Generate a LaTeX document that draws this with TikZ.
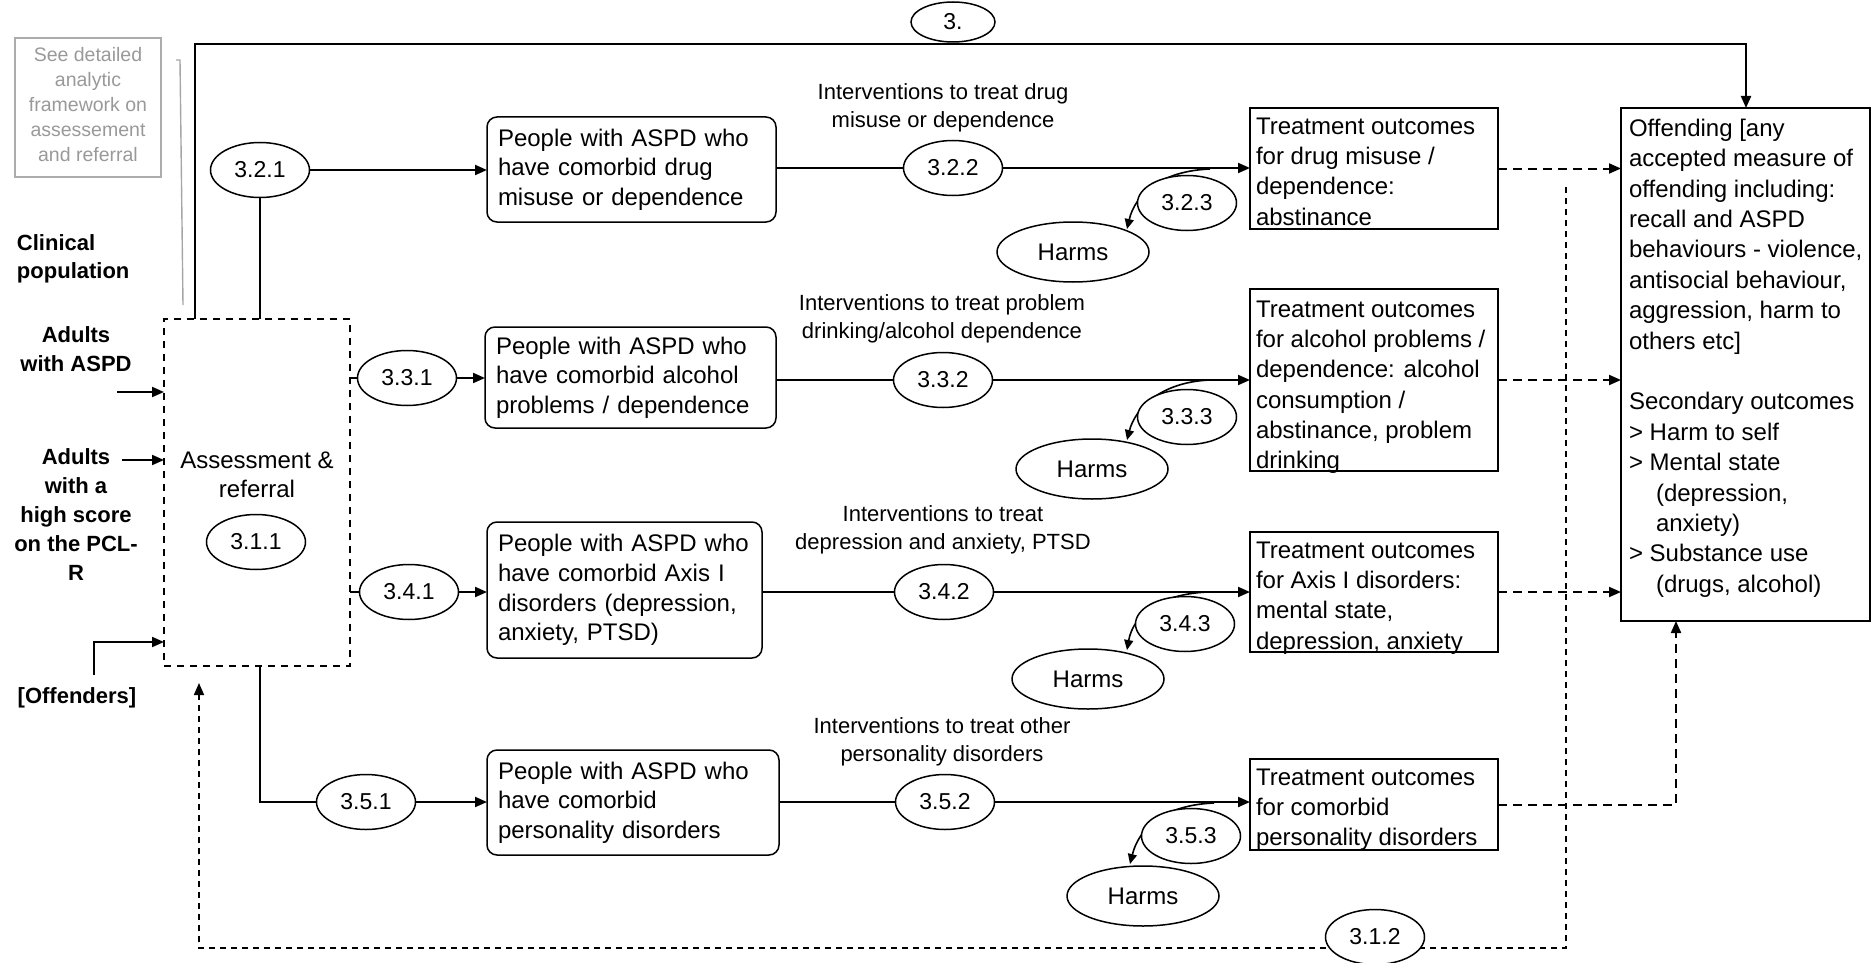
\documentclass[tikz,border=0pt]{standalone}
\usepackage{fontspec}
\setmainfont{Liberation Sans}
\usetikzlibrary{arrows.meta,shapes.geometric,backgrounds,calc}
\begin{document}
\begin{tikzpicture}[x=0.5pt,y=-0.5pt,
  every node/.style={inner sep=0pt,outer sep=0pt},
  tip/.style={-{Triangle[length=6pt,width=5pt]}},
  conn/.style={line width=1pt},
  arr/.style={conn,tip},
  dline/.style={line width=1pt,dash pattern=on 4.5pt off 3pt,tip},
  fline/.style={line width=0.8pt,dash pattern=on 3pt off 2.5pt},
  harmarr/.style={line width=0.8pt,-{Triangle[length=5pt,width=4.5pt]}},
  num/.style={ellipse,draw,line width=0.75pt,fill=white,minimum width=49.5pt,minimum height=27.5pt,font=\fontsize{11.5}{13}\selectfont},
  harm/.style={ellipse,draw,line width=0.75pt,fill=white,minimum width=76pt,minimum height=30pt,font=\fontsize{12}{14}\selectfont},
  pbox/.style={draw,line width=0.75pt,rounded corners=5pt,align=left,inner xsep=5.5pt,font=\fontsize{12}{14.8}\selectfont},
  tbox/.style={draw,line width=0.75pt,minimum width=124pt},
  ttext/.style={anchor=north west,align=left,font=\fontsize{12}{15.1}\selectfont},
  ilabel/.style={align=center,font=\fontsize{11}{13.8}\selectfont},
  side/.style={align=center,font=\bfseries\fontsize{11}{14.4}\selectfont},
]
\useasboundingbox (0,0) rectangle (1874,963);

% note box on the left
\node[draw=gray!65,line width=0.75pt,minimum width=73pt,minimum height=69.5pt] (note) at (88,107.5) {};
\node[align=center,text=gray!80,font=\fontsize{9.75}{12.5}\selectfont] (notetxt) at (88,105)
  {See detailed\\analytic\\framework on\\assessement\\and referral};

% population labels
\node[anchor=west,align=left,font=\bfseries\fontsize{11}{14}\selectfont] (clin) at (17,259) {Clinical\\population};
\node[side] (aspd) at (76,349.5) {Adults\\with ASPD};
\node[side] (pcl) at (76,514.5) {Adults\\with a\\high score\\on the PCL-\\R};
\node[side] (offd) at (77,698) {[Offenders]};

% assessment and referral
\node[draw,line width=0.75pt,dash pattern=on 3.5pt off 3pt,minimum width=93pt,minimum height=173.5pt] (ar) at (257,492.5) {};
\node[align=center,font=\fontsize{12}{14.5}\selectfont] (artxt) at (257,474.5) {Assessment \&\\referral};
\node[num] (e311) at (256,542) {3.1.1};

% top route
\node[num,minimum width=42pt,minimum height=20pt] (e3) at (953,22) {3.};

% population groups
\node[pbox,text width=133.5pt,minimum height=52.5pt] (p1) at (631.5,169.5) {People with ASPD who\\have comorbid drug\\misuse or dependence};
\node[pbox,text width=134.5pt,minimum height=50.5pt] (p2) at (630.5,377.5) {People with ASPD who\\have comorbid alcohol\\problems / dependence};
\node[pbox,text width=126.5pt,minimum height=68pt] (p3) at (624.5,590) {People with ASPD who\\have comorbid Axis I\\disorders (depression,\\anxiety, PTSD)};
\node[pbox,text width=135pt,minimum height=52.5pt] (p4) at (633,802.5) {People with ASPD who\\have comorbid\\personality disorders};

% key questions
\node[num] (e321) at (260,170) {3.2.1};
\node[num] (e331) at (407,378) {3.3.1};
\node[num] (e341) at (409,592) {3.4.1};
\node[num] (e351) at (366,802) {3.5.1};
\node[num] (e322) at (953,168) {3.2.2};
\node[num] (e332) at (943,380) {3.3.2};
\node[num] (e342) at (944,592) {3.4.2};
\node[num] (e352) at (945,802) {3.5.2};
\node[num] (e323) at (1187,203) {3.2.3};
\node[num] (e333) at (1187,417) {3.3.3};
\node[num] (e343) at (1185,624) {3.4.3};
\node[num] (e353) at (1191,836) {3.5.3};
\node[num] (e312) at (1375,937) {3.1.2};

% harms
\node[harm] (h1) at (1073,252) {Harms};
\node[harm] (h2) at (1092,469) {Harms};
\node[harm] (h3) at (1088,679) {Harms};
\node[harm] (h4) at (1143,896) {Harms};

% intervention labels
\node[ilabel] (l1) at (943,108) {Interventions to treat drug\\misuse or dependence};
\node[ilabel] (l2) at (942,319) {Interventions to treat problem\\drinking/alcohol dependence};
\node[ilabel] (l3) at (943,530) {Interventions to treat\\depression and anxiety, PTSD};
\node[ilabel] (l4) at (942,742) {Interventions to treat other\\personality disorders};

% treatment outcomes
\node[tbox,minimum height=60.5pt] (t1) at (1374,168.5) {};
\node[tbox,minimum height=91pt] (t2) at (1374,380) {};
\node[tbox,minimum height=60pt] (t3) at (1374,592) {};
\node[tbox,minimum height=45.5pt] (t4) at (1374,804.5) {};
\node[ttext] (t1txt) at (1256,118) {Treatment outcomes\\for drug misuse /\\dependence:\\abstinance};
\node[ttext] (t2txt) at (1256,301) {Treatment outcomes\\for alcohol problems /\\dependence: alcohol\\consumption /\\abstinance, problem\\drinking};
\node[ttext] (t3txt) at (1256,542) {Treatment outcomes\\for Axis I disorders:\\mental state,\\depression, anxiety};
\node[ttext] (t4txt) at (1256,769) {Treatment outcomes\\for comorbid\\personality disorders};

% final outcomes
\node[draw,line width=0.75pt,minimum width=124.5pt,minimum height=256.5pt] (off) at (1745.5,364.5) {};
\node[ttext,font=\fontsize{12}{15.2}\selectfont] (offtxt) at (1629,119) {Offending [any\\accepted measure of\\offending including:\\recall and ASPD\\behaviours - violence,\\antisocial behaviour,\\aggression, harm to\\others etc]\\[15.2pt]Secondary outcomes\\> Harm to self\\> Mental state\\\hspace*{13.5pt}(depression,\\\hspace*{13.5pt}anxiety)\\> Substance use\\\hspace*{13.5pt}(drugs, alcohol)};

% free ends of connectors
\coordinate (noteA) at (176,60);
\coordinate (noteB) at (180,60);
\coordinate (noteC) at (183,305);
\coordinate (in1) at (117,392);
\coordinate (in2) at (122,460);
\coordinate (in3) at (94,675);
\coordinate (in3b) at (94,642);
\coordinate (topL) at (195,44);
\coordinate (topR) at (1746,44);
\coordinate (fbTop) at (1566,187);
\coordinate (fbBot) at (1566,948);
\coordinate (fbEnd) at (199,683);
\coordinate (r4x) at (1676,700);

\begin{scope}[on background layer]
  % pointer from the note
  \draw[gray!70,line width=0.7pt] (noteA) -- (noteB) -- (noteC);
  % inputs
  \draw[arr] (in1) -- (in1 -| ar.west);
  \draw[arr] (in2) -- (in2 -| ar.west);
  \draw[arr] (in3) -- (in3b) -- (in3b -| ar.west);
  % overarching question
  \draw[arr] (ar.north -| topL) -- (topL) -- (topR) -- (topR |- off.north);
  % row 1
  \draw[conn] (ar.north -| e321) -- (e321);
  \draw[arr] (e321.east) -- (e321.east -| p1.west);
  \draw[conn] (p1.east |- e322) -- (e322);
  \draw[arr] (e322) -- (t1.west |- e322);
  % row 2
  \draw[conn] (ar.east |- e331) -- (e331);
  \draw[arr] (e331.east) -- (e331.east -| p2.west);
  \draw[conn] (p2.east |- e332) -- (e332);
  \draw[arr] (e332) -- (t2.west |- e332);
  % row 3
  \draw[conn] (ar.east |- e341) -- (e341);
  \draw[arr] (e341.east) -- (e341.east -| p3.west);
  \draw[conn] (p3.east |- e342) -- (e342);
  \draw[arr] (e342) -- (t3.west |- e342);
  % row 4
  \draw[conn] (e321 |- ar.south) |- (e351);
  \draw[arr] (e351.east) -- (e351.east -| p4.west);
  \draw[conn] (p4.east |- e352) -- (e352);
  \draw[arr] (e352) -- (t4.west |- e352);
  % harms
  \draw[harmarr] ($(e323)+(23,-34)$) .. controls ($(e323)+(-27,-32)$) and ($(e323)+(-52,-8)$) .. ($(e323)+(-60,26)$);
  \draw[harmarr] ($(e333)+(23,-37)$) .. controls ($(e333)+(-27,-35)$) and ($(e333)+(-52,-8)$) .. ($(e333)+(-60,23)$);
  \draw[harmarr] ($(e343)+(23,-32)$) .. controls ($(e343)+(-27,-30)$) and ($(e343)+(-52,-8)$) .. ($(e343)+(-58,26)$);
  \draw[harmarr] ($(e353)+(23,-33)$) .. controls ($(e353)+(-27,-31)$) and ($(e353)+(-52,-8)$) .. ($(e353)+(-61,28)$);
  % outcomes to offending
  \draw[dline] (t1.east) -- (t1.east -| off.west);
  \draw[dline] (t2.east) -- (t2.east -| off.west);
  \draw[dline] (t3.east) -- (t3.east -| off.west);
  \draw[dline] (t4.east) -- (t4.east -| r4x) -- (r4x |- off.south);
  % feedback loop
  \draw[fline,tip] (fbTop) -- (fbBot) -- (fbEnd |- fbBot) -- (fbEnd);
\end{scope}
\end{tikzpicture}
\end{document}
